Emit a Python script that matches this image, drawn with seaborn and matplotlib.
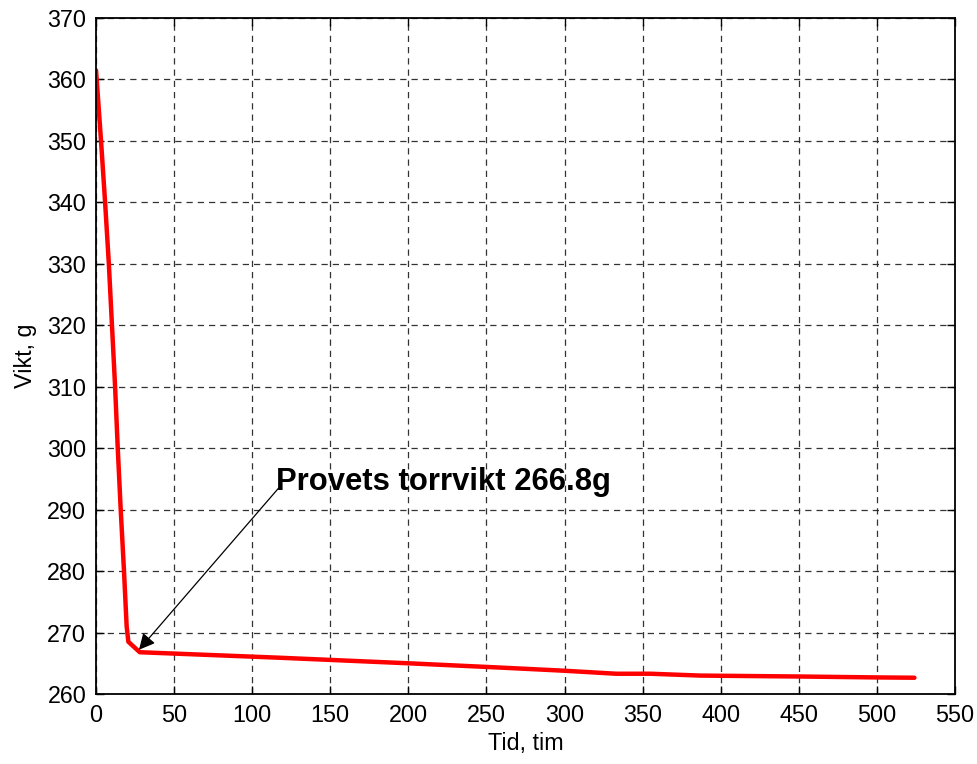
import matplotlib
matplotlib.use("Agg")
import matplotlib.pyplot as plt
import seaborn as sns
import pandas as pd

tid = [0, 3.2, 5.8, 8.2, 10.2, 12.2, 13.9, 15.8, 17.9, 19.6, 20.7, 28, 118, 200, 259, 299, 333, 355, 387, 450, 500, 524]
vikt = [361.5, 350, 340, 330, 320, 310, 300, 290, 280, 271, 268.5, 266.8, 265.9, 265.0, 264.3, 263.8, 263.3, 263.3, 263.0, 262.85, 262.7, 262.65]
x_ticks = list(range(0, 551, 50))
y_ticks = list(range(260, 371, 10))
annot_text = "Provets torrvikt 266.8g"

sns.set_style("white")
plt.rcParams['font.family'] = ['Liberation Sans', 'DejaVu Sans']
plt.rcParams['text.color'] = 'black'
plt.rcParams['axes.labelcolor'] = 'black'

df = pd.DataFrame({"Tid": tid, "Vikt": vikt})
fig = plt.figure(figsize=(9.78, 7.64), dpi=100)
ax = fig.add_axes([0.0982, 0.0916, 0.8783, 0.8848])
sns.lineplot(data=df, x="Tid", y="Vikt", ax=ax, color="#ff0000", linewidth=3.2, sort=False)

ax.set_xlim(0, 550)
ax.set_ylim(260, 370)
ax.set_xticks(x_ticks)
ax.set_yticks(y_ticks)
ax.tick_params(axis="both", direction="in", length=6, width=1, labelsize=16.8, colors="black",
               top=True, right=True, bottom=True, left=True, pad=7)
ax.grid(True, color="#333333", linestyle=(0, (5, 4)), linewidth=0.9)
for s in ax.spines.values():
    s.set_color("black")
    s.set_linewidth(1.3)
    s.set_visible(True)
ax.set_xlabel("Tid, tim", fontsize=16.8, labelpad=4, color="black")
ax.set_ylabel("Vikt, g", fontsize=16.8, labelpad=7, color="black")

ax.text(115.3, 293.2, annot_text, fontsize=22.3, fontweight="bold", color="black",
        ha="left", va="baseline")
ax.annotate("", xy=(27.5, 267.2), xytext=(117.2, 293.6),
            arrowprops=dict(arrowstyle="-|>", color="black", lw=0.9, mutation_scale=24,
                            shrinkA=0, shrinkB=0))

fig.savefig("out.png", dpi=100)
